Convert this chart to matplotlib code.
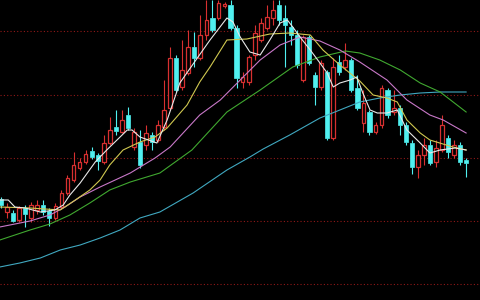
import matplotlib
matplotlib.use("Agg")
import matplotlib.pyplot as plt
import numpy as np

# daily candles (price points), left to right
opens = [101, 88, 87, 80, 92, 82, 90, 95, 89, 82, 93, 107, 120, 132, 138, 149, 145, 138, 157, 173,
         168, 185, 153, 158, 155, 165, 160, 173, 192, 242, 213, 227, 253, 242, 265, 282, 282, 294, 295, 272,
         218, 218, 245, 260, 272, 282, 295, 282, 273, 265, 220, 263, 225, 213, 228, 162, 238, 233, 240, 212,
         177, 188, 168, 175, 210, 188, 192, 175, 157, 133, 145, 155, 138, 150, 162, 145, 155, 140]
highs = [103, 97, 90, 94, 95, 98, 100, 100, 92, 97, 110, 125, 148, 142, 150, 153, 147, 165, 183, 190,
         190, 193, 172, 170, 175, 168, 180, 220, 253, 245, 260, 270, 268, 285, 300, 300, 300, 298, 300, 275,
         228, 245, 275, 282, 295, 300, 300, 295, 280, 270, 265, 265, 228, 240, 230, 242, 245, 257, 242, 225,
         210, 190, 178, 215, 212, 210, 195, 178, 160, 150, 162, 160, 160, 185, 165, 160, 158, 142]
lows = [92, 82, 78, 78, 73, 78, 86, 85, 74, 80, 91, 105, 118, 130, 136, 141, 130, 136, 155, 165,
        167, 170, 150, 132, 150, 150, 158, 170, 190, 208, 210, 225, 233, 240, 260, 268, 280, 292, 270, 212,
        212, 215, 240, 258, 270, 275, 275, 233, 255, 232, 218, 235, 195, 210, 160, 160, 225, 230, 208, 190,
        168, 165, 166, 172, 182, 185, 165, 155, 126, 122, 135, 135, 133, 148, 142, 142, 135, 123]
closes = [95, 93, 79, 92, 86, 95, 95, 88, 82, 94, 107, 122, 135, 138, 146, 143, 139, 157, 170, 169,
          180, 172, 168, 135, 167, 158, 175, 190, 242, 210, 230, 253, 242, 265, 280, 270, 297, 296, 272, 222,
          223, 243, 267, 277, 283, 290, 280, 275, 265, 235, 263, 237, 213, 237, 162, 233, 228, 240, 210, 192,
          197, 168, 175, 212, 185, 192, 175, 158, 133, 145, 155, 137, 152, 175, 148, 155, 138, 137]

# moving averages read at sample positions (candle index, price)
ma5_x = [-0.2, 1.2, 2.3, 4.0, 6.5, 8.9, 10.3, 11.4, 13.1, 15.6, 17.5, 20.9, 21.7, 23.0, 25.8, 27.5,
         29.6, 32.5, 34.6, 37.4, 38.4, 39.6, 41.2, 42.9, 44.5, 46.2, 47.4, 48.3, 49.5, 51.2, 52.8, 54.0,
         55.0, 56.1, 57.8, 58.9, 59.9, 61.1, 62.3, 63.9, 65.6, 67.2, 69.4, 71.0, 72.7, 75.2, 77.0]
ma5_y = [100, 100, 93, 92, 88, 90, 95, 105, 117, 138, 150, 170, 170, 163, 157, 180,
         217, 242, 260, 282, 278, 263, 248, 245, 260, 277, 280, 273, 263, 250, 237, 227,
         213, 217, 220, 223, 207, 190, 187, 187, 190, 170, 157, 147, 150, 152, 150]
ma10_x = [-0.2, 4.8, 9.8, 12.3, 14.7, 16.4, 18.0, 20.2, 23.0, 25.5, 27.5, 30.8, 32.9, 34.6, 37.4,
          40.7, 44.5, 47.8, 51.2, 53.3, 56.1, 59.4, 61.6, 63.9, 65.6, 67.2, 69.4, 71.0, 74.8, 77.0]
ma10_y = [93, 92, 90, 100, 110, 120, 135, 150, 158, 163, 172, 195, 218, 233, 260,
          261, 266, 267, 265, 250, 235, 219, 205, 202, 198, 180, 167, 160, 153, 150]
ma20_x = [-0.2, 4.8, 8.1, 10.6, 13.1, 16.4, 21.4, 25.5, 28.0, 32.9, 36.3, 39.6, 42.9, 46.2, 49.5,
          52.8, 56.1, 59.4, 63.9, 67.2, 71.0, 73.2, 77.0]
ma20_y = [73, 79, 85, 93, 103, 113, 127, 142, 153, 185, 200, 220, 240, 255, 263,
          259, 250, 238, 220, 200, 185, 180, 167]
ma30_x = [-0.2, 4.8, 8.1, 11.4, 14.7, 18.0, 21.4, 26.3, 31.6, 37.4, 42.9, 48.3, 52.8, 57.0, 59.4,
          62.7, 66.1, 69.4, 72.7, 77.0]
ma30_y = [60, 70, 76, 85, 97, 110, 118, 127, 150, 188, 210, 233, 243, 249, 247,
          240, 230, 217, 208, 188]
ma60_x = [-0.2, 3.1, 6.5, 9.8, 13.1, 16.4, 19.7, 23.0, 26.3, 31.8, 37.4, 41.2, 43.4, 47.8, 52.8,
          56.1, 59.4, 62.7, 66.1, 69.4, 72.7, 77.0]
ma60_y = [33, 37, 42, 50, 55, 62, 70, 82, 88, 107, 130, 143, 151, 165, 182,
          190, 198, 202, 205, 207, 208, 208]

grid_levels = [16, 79, 142, 205, 269]

UP = '#d83030'
DOWN = '#50f0f0'


def main():
    fig = plt.figure(figsize=(4.8, 3.0), dpi=100, facecolor='black')
    ax = fig.add_axes([0, 0, 1, 1])
    ax.set_facecolor('black')

    for lvl in grid_levels:
        ax.axhline(lvl, color='#901818', lw=0.8, ls=(0, (1, 2)), zorder=1)

    x = np.arange(len(opens))
    o = np.array(opens)
    c = np.array(closes)
    h = np.array(highs)
    l = np.array(lows)
    up = c >= o
    top = np.maximum(o, c)
    bot = np.minimum(o, c)

    # wicks (split around hollow up bodies)
    ax.vlines(x, top, h, color=np.where(up, UP, DOWN), lw=0.8, zorder=2)
    ax.vlines(x, l, bot, color=np.where(up, UP, DOWN), lw=0.8, zorder=2)

    ax.bar(x[up], (top - bot)[up], bottom=bot[up], width=0.62,
           facecolor='black', edgecolor=UP, linewidth=0.9, zorder=3)
    ax.bar(x[~up], np.maximum((top - bot)[~up], 1), bottom=bot[~up], width=0.7,
           facecolor=DOWN, edgecolor=DOWN, linewidth=0.5, zorder=3)

    ax.plot(ma60_x, ma60_y, color='#40a8c0', lw=0.8, zorder=4)
    ax.plot(ma30_x, ma30_y, color='#40a830', lw=0.8, zorder=4)
    ax.plot(ma20_x, ma20_y, color='#c878c8', lw=0.8, zorder=4)
    ax.plot(ma10_x, ma10_y, color='#d0c850', lw=0.8, zorder=4)
    ax.plot(ma5_x, ma5_y, color='#e8e8e8', lw=0.8, zorder=4)

    ax.set_xlim(-0.17, 79.3)
    ax.set_ylim(0, 300)
    ax.axis('off')
    fig.savefig('out.png', dpi=100, facecolor='black')


if __name__ == '__main__':
    main()
